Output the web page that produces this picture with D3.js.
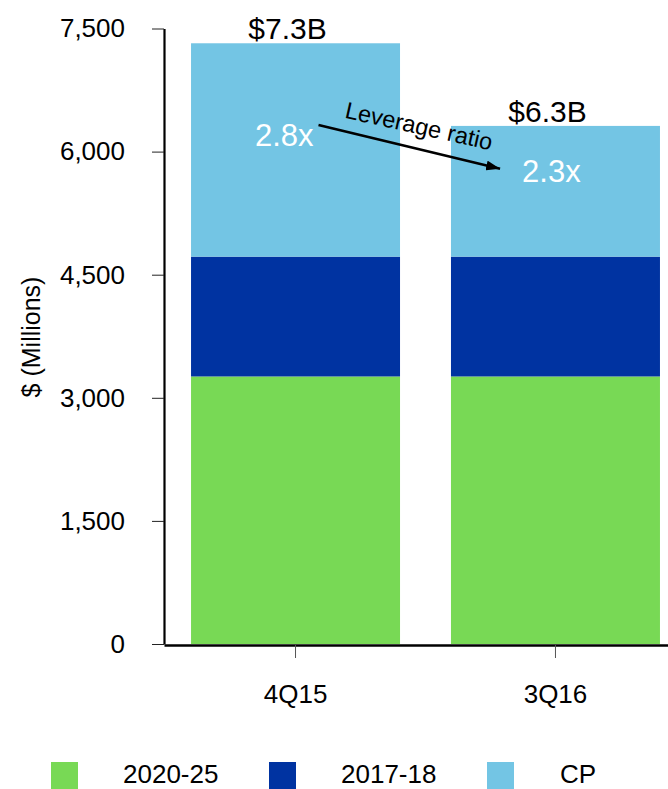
<!DOCTYPE html>
<html lang="en">
<head>
  <meta charset="UTF-8">
  <title>Debt maturity mix</title>
  <style>
    body { margin: 0; background: #fff; }
    svg { display: block; font-family: "Liberation Sans", Arial, sans-serif; }
  </style>
  <script src="https://d3js.org/d3.v7.min.js"></script>
</head>
<body>
  <div id="chart"></div>
  <script>
    // data ($ millions)
    const quarters = ["4Q15", "3Q16"];
    const keys = ["2020-25", "2017-18", "CP"];
    const notes2020 = [3260, 3260];
    const notes2017 = [1460, 1460];
    const cpValues = [2600, 1593];
    const totalLabels = ["$7.3B", "$6.3B"];
    const leverage = ["2.8x", "2.3x"];
    const leverageAt = [6068, 5629];   // where the ratio labels sit on the value axis
    const yTicks = [0, 1500, 3000, 4500, 6000, 7500];
    const colors = ["#78d955", "#0033a1", "#73c5e4"];

    const width = 668, height = 789;

    const rows = quarters.map((q, i) => ({
      quarter: q,
      "2020-25": notes2020[i],
      "2017-18": notes2017[i],
      "CP": cpValues[i]
    }));

    const series = d3.stack().keys(keys)(rows);
    const color = d3.scaleOrdinal(keys, colors);

    const x = d3.scaleBand()
        .domain(quarters)
        .range([164, 687])
        .paddingInner(0.196)
        .paddingOuter(0.104);

    const y = d3.scaleLinear()
        .domain([0, 7500])
        .range([644, 28.5]);

    const svg = d3.create("svg")
        .attr("width", width)
        .attr("height", height)
        .attr("viewBox", [0, 0, width, height]);

    svg.append("defs").append("marker")
        .attr("id", "head")
        .attr("markerUnits", "userSpaceOnUse")
        .attr("viewBox", "0 0 14 10")
        .attr("refX", 14).attr("refY", 5)
        .attr("markerWidth", 14).attr("markerHeight", 10)
        .attr("orient", "auto")
      .append("path")
        .attr("d", "M0,0L14,5L0,10Z")
        .attr("fill", "#000");

    // bars
    svg.append("g")
      .selectAll("g")
      .data(series)
      .join("g")
        .attr("fill", d => color(d.key))
      .selectAll("rect")
      .data(d => d)
      .join("rect")
        .attr("x", d => x(d.data.quarter))
        .attr("y", d => y(d[1]))
        .attr("width", x.bandwidth())
        .attr("height", d => y(d[0]) - y(d[1]));

    // y axis
    const yAxis = svg.append("g")
        .attr("transform", `translate(${x.range()[0]},0)`)
        .call(d3.axisLeft(y).tickValues(yTicks).tickFormat(d3.format(","))
          .tickSize(12).tickSizeOuter(0).tickPadding(27));
    yAxis.select(".domain").attr("stroke-width", 2.2);
    yAxis.selectAll(".tick line").attr("stroke", "#222");
    yAxis.selectAll("text")
        .attr("font-size", 26)
        .attr("font-family", "Liberation Sans, Arial, sans-serif")
        .attr("fill", "#000");

    // x axis
    const xAxis = svg.append("g")
        .attr("transform", `translate(0,${y(0) + 1})`)
        .call(d3.axisBottom(x).tickSize(13).tickSizeOuter(0).tickPadding(27));
    xAxis.select(".domain").attr("stroke-width", 2.6);
    xAxis.selectAll(".tick line").attr("stroke", "#555");
    xAxis.selectAll("text")
        .attr("font-size", 26)
        .attr("font-family", "Liberation Sans, Arial, sans-serif")
        .attr("fill", "#000");

    svg.append("text")
        .attr("transform", `translate(40,337) rotate(-90)`)
        .attr("text-anchor", "middle")
        .attr("font-size", 25)
        .text("$ (Millions)");

    // totals above bars
    const topLayer = series[series.length - 1];
    svg.append("g")
      .selectAll("text")
      .data(topLayer)
      .join("text")
        .attr("x", d => x(d.data.quarter) + x.bandwidth() / 2 - 8)
        .attr("y", d => y(d[1]) - 4)
        .attr("text-anchor", "middle")
        .attr("font-size", 30)
        .text((d, i) => totalLabels[i]);

    // leverage arrow
    const p0 = [x(quarters[0]) + x.bandwidth() * 0.61, y(6324)];
    const p1 = [x(quarters[1]) + x.bandwidth() * 0.235, y(5790)];
    svg.append("line")
        .attr("x1", p0[0]).attr("y1", p0[1])
        .attr("x2", p1[0]).attr("y2", p1[1])
        .attr("stroke", "#000")
        .attr("stroke-width", 2.6)
        .attr("marker-end", "url(#head)");

    const ang = Math.atan2(p1[1] - p0[1], p1[0] - p0[0]) * 180 / Math.PI;
    svg.append("text")
        .attr("transform", `translate(${(p0[0] + p1[0]) / 2 + 8},${(p0[1] + p1[1]) / 2 - 13}) rotate(${ang - 1})`)
        .attr("text-anchor", "middle")
        .attr("font-size", 23.5)
        .text("Leverage ratio");

    // ratio labels inside the CP segment
    svg.append("g")
        .attr("fill", "#fff")
        .attr("font-size", 31)
      .selectAll("text")
      .data(leverage)
      .join("text")
        .attr("x", (d, i) => i === 0 ? p0[0] - 5 : p1[0] + 22)
        .attr("y", (d, i) => y(leverageAt[i]))
        .attr("text-anchor", (d, i) => i === 0 ? "end" : "start")
        .text(d => d);

    // legend
    const legendX = [51, 269, 487];
    const legend = svg.append("g")
      .selectAll("g")
      .data(keys)
      .join("g")
        .attr("transform", (d, i) => `translate(${legendX[i]},762)`);
    legend.append("rect")
        .attr("width", 27)
        .attr("height", 27)
        .attr("fill", d => color(d));
    legend.append("text")
        .attr("x", (d, i) => i === 2 ? 73 : 72)
        .attr("y", 21)
        .attr("font-size", 26)
        .text(d => d);

    document.getElementById("chart").appendChild(svg.node());
  </script>
</body>
</html>
